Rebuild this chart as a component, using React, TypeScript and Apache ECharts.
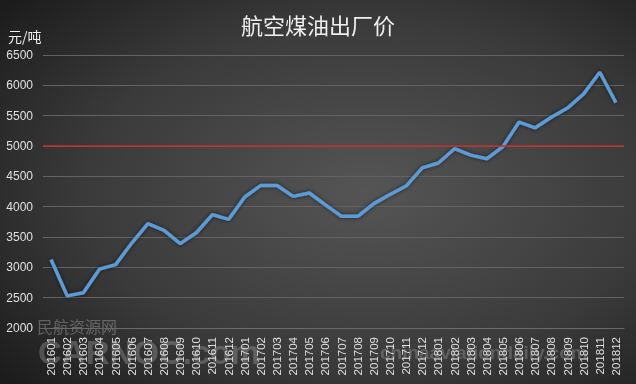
import React, { useEffect, useRef } from "react";
import * as echarts from "echarts";

const titleText = "航空煤油出厂价";
const unitName = "元/吨";
const months = [
  "201601", "201602", "201603", "201604", "201605", "201606",
  "201607", "201608", "201609", "201610", "201611", "201612",
  "201701", "201702", "201703", "201704", "201705", "201706",
  "201707", "201708", "201709", "201710", "201711", "201712",
  "201801", "201802", "201803", "201804", "201805", "201806",
  "201807", "201808", "201809", "201810", "201811", "201812",
];
const prices = [
  3130, 2530, 2580, 2970, 3045, 3400,
  3720, 3610, 3390, 3570, 3870, 3790,
  4160, 4350, 4350, 4170, 4225, 4030,
  3840, 3840, 4050, 4200, 4340, 4640,
  4720, 4955, 4850, 4790, 4990, 5395,
  5300, 5475, 5625, 5860, 6215, 5715,
];
const referenceLevel = 5000;

export default function App() {
  const ref = useRef<HTMLDivElement>(null);
  useEffect(() => {
    if (!ref.current) return;
    const chart = echarts.init(ref.current, null, { renderer: "svg" });
    chart.setOption({
      animation: false,
      backgroundColor: {
        type: "radial",
        x: 0.58,
        y: 0.5,
        r: 0.75,
        colorStops: [
          { offset: 0, color: "#555555" },
          { offset: 0.6, color: "#3a3a3a" },
          { offset: 1, color: "#1c1c1c" },
        ],
      },
      title: {
        text: titleText,
        left: "center",
        top: 8,
        textStyle: {
          color: "#eeeeee",
          fontSize: 22,
          fontWeight: "normal",
          fontFamily: "Noto Sans CJK SC",
        },
      },
      graphic: [
        {
          type: "text",
          left: 37,
          top: 318,
          silent: true,
          style: {
            text: "民航资源网",
            fill: "rgba(200,200,200,0.35)",
            font: "16px 'Noto Sans CJK SC'",
          },
        },
        {
          type: "text",
          left: 38,
          top: 336,
          silent: true,
          style: {
            text: "CARNOC.com",
            fill: "rgba(190,190,190,0.3)",
            font: "bold 33px 'Liberation Sans'",
          },
        },
        {
          type: "text",
          left: 380,
          top: 343,
          silent: true,
          style: {
            text: "chinaaviationdaily.com",
            fill: "rgba(190,190,190,0.3)",
            font: "bold 19px 'Liberation Sans'",
          },
        },
      ],
      grid: { left: 43, right: 12, top: 55, bottom: 56 },
      xAxis: {
        type: "category",
        data: months,
        boundaryGap: true,
        axisLine: { show: true, lineStyle: { color: "#6a6a6a" } },
        axisTick: { show: false },
        axisLabel: {
          rotate: 90,
          interval: 0,
          margin: 9,
          color: "#e0e0e0",
          fontSize: 11.5,
          fontFamily: "Liberation Sans",
        },
      },
      yAxis: {
        type: "value",
        min: 2000,
        max: 6500,
        interval: 500,
        name: unitName,
        nameLocation: "end",
        nameGap: 12,
        nameTextStyle: {
          color: "#eeeeee",
          fontSize: 14,
          fontFamily: "Noto Sans CJK SC",
          align: "left",
          padding: [0, 0, 0, -35],
        },
        axisLine: { show: false },
        axisTick: { show: false },
        axisLabel: {
          color: "#e0e0e0",
          fontSize: 12,
          margin: 10,
          fontFamily: "Liberation Sans",
          formatter: (v: number) => String(v),
        },
        splitLine: { lineStyle: { color: "#636363", width: 1 } },
      },
      series: [
        {
          type: "line",
          data: prices,
          symbol: "none",
          lineStyle: {
            color: "#5b9bd5",
            width: 3.5,
            shadowColor: "rgba(0,0,0,0.6)",
            shadowBlur: 4,
          },
          markLine: {
            silent: true,
            symbol: "none",
            label: { show: false },
            lineStyle: { color: "#c0302a", width: 1.5, type: "solid" },
            data: [{ yAxis: referenceLevel }],
          },
        },
      ],
    });
    return () => chart.dispose();
  }, []);
  return (
    <div
      ref={ref}
      style={{ position: "fixed", left: 0, top: 0, width: 636, height: 384 }}
    />
  );
}
